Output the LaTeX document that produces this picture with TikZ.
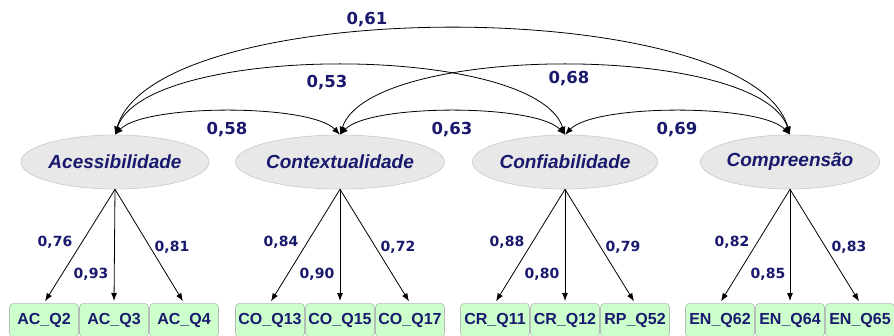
\documentclass[tikz,border=0pt]{standalone}
\usepackage{fontspec}
\usetikzlibrary{shapes.geometric,arrows.meta}
\newfontfamily\lsans{Liberation Sans}
\newfontfamily\dvsans{DejaVu Sans}
\definecolor{navy}{RGB}{25,25,110}
\definecolor{latfill}{RGB}{232,232,232}
\definecolor{latdraw}{RGB}{200,200,200}
\definecolor{obsfill}{RGB}{204,255,204}
\definecolor{obsdraw}{RGB}{180,190,180}
\begin{document}
\begin{tikzpicture}[x=1pt,y=-1pt,
 latent/.style={ellipse, fill=latfill, draw=latdraw, line width=0.6pt, minimum width=178pt, minimum height=54pt, inner sep=0pt, text=navy, font=\lsans\bfseries\itshape\fontsize{19}{22}\selectfont},
 obs/.style={rectangle, rounded corners=4pt, fill=obsfill, draw=obsdraw, line width=0.6pt, minimum width=69pt, minimum height=34pt, inner sep=0pt, text=navy, font=\lsans\bfseries\fontsize{16}{19}\selectfont, anchor=north},
 load/.style={text=navy, font=\dvsans\bfseries\fontsize{14}{16}\selectfont, inner sep=0pt},
 corr/.style={text=navy, font=\dvsans\bfseries\fontsize{16.5}{19}\selectfont, inner sep=0pt},
 arr/.style={-{Latex[length=8pt,width=6pt]}, line width=0.8pt, shorten >=2pt},
 cov/.style={{Latex[length=8pt,width=6pt]}-{Latex[length=8pt,width=6pt]}, line width=0.8pt},
]
\useasboundingbox (0,0) rectangle (894,335);

% latent variables
\node[latent] (acc) at (115,162) {Acessibilidade};
\node[latent] (con) at (340,162) {Contextualidade};
\node[latent] (cnf) at (565,162) {Confiabilidade};
\node[latent] (cmp) at (790,162) {Compreensão};

% observed variables
\node[obs] (ac2) at (44,303) {AC\_Q2};
\node[obs] (ac3) at (114,303) {AC\_Q3};
\node[obs] (ac4) at (184,303) {AC\_Q4};
\node[obs] (co13) at (270,303) {CO\_Q13};
\node[obs] (co15) at (340,303) {CO\_Q15};
\node[obs] (co17) at (410,303) {CO\_Q17};
\node[obs] (cr11) at (495,303) {CR\_Q11};
\node[obs] (cr12) at (565,303) {CR\_Q12};
\node[obs] (rp52) at (635,303) {RP\_Q52};
\node[obs] (en62) at (720,303) {EN\_Q62};
\node[obs] (en64) at (790,303) {EN\_Q64};
\node[obs] (en65) at (860,303) {EN\_Q65};

% loadings
\draw[arr] (acc.south) -- (ac2.north);
\draw[arr] (acc.south) -- (ac3.north);
\draw[arr] (acc.south) -- (ac4.north);
\draw[arr] (con.south) -- (co13.north);
\draw[arr] (con.south) -- (co15.north);
\draw[arr] (con.south) -- (co17.north);
\draw[arr] (cnf.south) -- (cr11.north);
\draw[arr] (cnf.south) -- (cr12.north);
\draw[arr] (cnf.south) -- (rp52.north);
\draw[arr] (cmp.south) -- (en62.north);
\draw[arr] (cmp.south) -- (en64.north);
\draw[arr] (cmp.south) -- (en65.north);

\node[load] (l1) at (55,242) {0,76};
\node[load] (l2) at (91,274) {0,93};
\node[load] (l3) at (172,247) {0,81};
\node[load] (l4) at (281,242) {0,84};
\node[load] (l5) at (317,274) {0,90};
\node[load] (l6) at (398,247) {0,72};
\node[load] (l7) at (507,242) {0,88};
\node[load] (l8) at (542,274) {0,80};
\node[load] (l9) at (623,247) {0,79};
\node[load] (l10) at (732,242) {0,82};
\node[load] (l11) at (768,274) {0,85};
\node[load] (l12) at (849,247) {0,83};

% correlations
\draw[cov] (acc.north) .. controls +(30,-31) and +(-30,-31) .. (con.north);
\draw[cov] (con.north) .. controls +(30,-31) and +(-30,-31) .. (cnf.north);
\draw[cov] (cnf.north) .. controls +(30,-31) and +(-30,-31) .. (cmp.north);
\draw[cov] (acc.north) .. controls +(30,-92) and +(-30,-92) .. (cnf.north);
\draw[cov] (con.north) .. controls +(30,-92) and +(-30,-92) .. (cmp.north);
\draw[cov] (acc.north) .. controls +(40,-141) and +(-40,-141) .. (cmp.north);

\node[corr] (c1) at (367,20) {0,61};
\node[corr] (c2) at (327,83) {0,53};
\node[corr] (c3) at (227,130) {0,58};
\node[corr] (c4) at (452,130) {0,63};
\node[corr] (c5) at (569,79) {0,68};
\node[corr] (c6) at (677,130) {0,69};
\end{tikzpicture}
\end{document}
